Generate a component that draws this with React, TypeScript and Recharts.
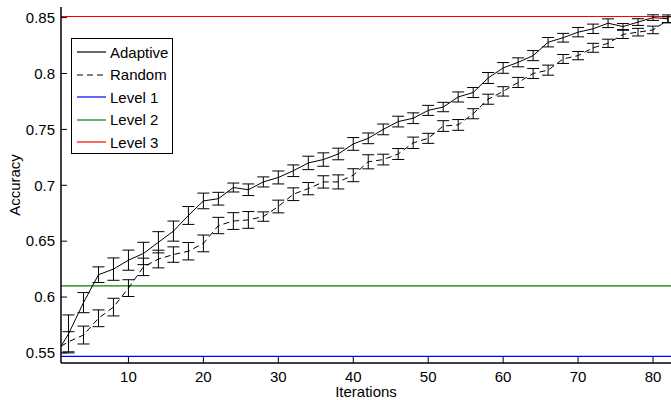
import React from "react";
import {
  LineChart,
  Line,
  XAxis,
  YAxis,
  ErrorBar,
  ReferenceLine,
  Legend,
} from "recharts";

const FONT = "'Liberation Sans', Arial, Helvetica, sans-serif";

// iterations where the means were recorded (error bars on even iterations)
const iterations = [
  1, 2, 4, 6, 8, 10, 12, 14, 16, 18, 20, 22, 24, 26, 28, 30, 32, 34, 36, 38, 40,
  42, 44, 46, 48, 50, 52, 54, 56, 58, 60, 62, 64, 66, 68, 70, 72, 74, 76, 78, 80, 82,
];

const adaptiveMean = [
  0.556, 0.567, 0.595, 0.62, 0.625, 0.633, 0.639, 0.649, 0.659, 0.673, 0.686,
  0.688, 0.698, 0.696, 0.703, 0.707, 0.713, 0.72, 0.723, 0.728, 0.737, 0.742,
  0.75, 0.757, 0.76, 0.767, 0.77, 0.779, 0.783, 0.796, 0.805, 0.81, 0.816,
  0.828, 0.832, 0.837, 0.84, 0.845, 0.842, 0.846, 0.85, 0.849,
];

const adaptiveErr = [
  null, 0.017, 0.009, 0.007, 0.01, 0.009, 0.01, 0.0095, 0.009, 0.008, 0.007,
  0.0057, 0.004, 0.0052, 0.0045, 0.0058, 0.0052, 0.006, 0.006, 0.0052, 0.0057,
  0.0048, 0.0048, 0.0048, 0.0048, 0.0045, 0.0042, 0.0045, 0.0045, 0.0049,
  0.0048, 0.004, 0.0045, 0.0042, 0.0039, 0.0042, 0.0042, 0.0039, 0.0027, 0.003,
  0.0025, 0.0034,
];

const randomMean = [
  0.556, 0.56, 0.566, 0.581, 0.591, 0.608, 0.627, 0.634, 0.638, 0.641, 0.648,
  0.664, 0.668, 0.669, 0.672, 0.681, 0.692, 0.697, 0.703, 0.703, 0.709, 0.721,
  0.723, 0.728, 0.738, 0.742, 0.753, 0.754, 0.764, 0.777, 0.784, 0.792, 0.8,
  0.803, 0.813, 0.816, 0.823, 0.827, 0.835, 0.837, 0.839, 0.848,
];

const randomErr = [
  null, 0.009, 0.008, 0.0075, 0.0079, 0.0075, 0.0078, 0.0079, 0.0069, 0.0078,
  0.0075, 0.0073, 0.0075, 0.0075, 0.0042, 0.0057, 0.0057, 0.0055, 0.0055,
  0.0063, 0.0058, 0.0063, 0.0048, 0.0049, 0.0051, 0.0045, 0.0048, 0.0048,
  0.0045, 0.0045, 0.0042, 0.0045, 0.0045, 0.0045, 0.004, 0.0037, 0.004, 0.0037,
  0.0037, 0.0034, 0.0034, 0.0027,
];

const LEVEL_1 = 0.547;
const LEVEL_2 = 0.61;
const LEVEL_3 = 0.851;

const X_TICKS = [10, 20, 30, 40, 50, 60, 70, 80];
const Y_TICKS = [0.55, 0.6, 0.65, 0.7, 0.75, 0.8, 0.85];
const X_DOMAIN = [1, 82.4];
const Y_DOMAIN = [0.541, 0.8595];

const legendItems = [
  { name: "Adaptive", color: "#000000", dash: undefined },
  { name: "Random", color: "#000000", dash: "6 4" },
  { name: "Level 1", color: "#0000ff", dash: undefined },
  { name: "Level 2", color: "#008000", dash: undefined },
  { name: "Level 3", color: "#ff0000", dash: undefined },
];

const data = iterations.map((x, i) => ({
  x,
  adaptive: adaptiveMean[i],
  adaptiveErr: adaptiveErr[i],
  random: randomMean[i],
  randomErr: randomErr[i],
}));

const LegendBox = () => (
  <div
    style={{
      boxSizing: "border-box",
      width: 102,
      height: 116,
      border: "1px solid #000",
      background: "#fff",
      padding: "2px 0 0 5px",
      fontFamily: FONT,
      fontSize: 15,
      color: "#000",
    }}
  >
    {legendItems.map((item) => (
      <div
        key={item.name}
        style={{ display: "flex", alignItems: "center", height: 22.5 }}
      >
        <svg width={29} height={10} style={{ marginRight: 4 }}>
          <line
            x1={0}
            y1={5}
            x2={29}
            y2={5}
            stroke={item.color}
            strokeWidth={1.2}
            strokeDasharray={item.dash}
          />
        </svg>
        <span>{item.name}</span>
      </div>
    ))}
  </div>
);

const tickStyle = { fontSize: 15, fill: "#000", fontFamily: FONT };

const App = () => {
  return (
    <div style={{ position: "absolute", left: 0, top: 0, background: "#fff" }}>
      <LineChart
        width={671}
        height={400}
        data={data}
        margin={{ top: 7, right: 0, left: 0, bottom: 0 }}
      >
        <XAxis
          dataKey="x"
          type="number"
          domain={X_DOMAIN}
          ticks={X_TICKS}
          allowDataOverflow
          height={37}
          tickSize={-6}
          tickMargin={14}
          tick={tickStyle}
          axisLine={{ stroke: "#000", strokeWidth: 1.5 }}
          tickLine={{ stroke: "#000" }}
          label={{
            value: "Iterations",
            position: "insideBottom",
            offset: 3,
            fontSize: 15,
            fill: "#000",
            fontFamily: FONT,
          }}
        />
        <XAxis
          xAxisId="top"
          orientation="top"
          type="number"
          domain={X_DOMAIN}
          ticks={X_TICKS}
          allowDataOverflow
          height={0}
          tickSize={-6}
          tick={false}
          axisLine={{ stroke: "#000", strokeWidth: 1.5 }}
          tickLine={{ stroke: "#000" }}
        />
        <YAxis
          type="number"
          domain={Y_DOMAIN}
          ticks={Y_TICKS}
          allowDataOverflow
          width={61}
          tickSize={-6}
          tickMargin={12}
          tick={tickStyle}
          axisLine={{ stroke: "#000", strokeWidth: 1.5 }}
          tickLine={{ stroke: "#000" }}
          label={{
            value: "Accuracy",
            angle: -90,
            position: "insideLeft",
            offset: 15,
            fontSize: 15,
            fill: "#000",
            fontFamily: FONT,
            style: { textAnchor: "middle" },
          }}
        />
        <YAxis
          yAxisId="right"
          orientation="right"
          type="number"
          domain={Y_DOMAIN}
          ticks={Y_TICKS}
          allowDataOverflow
          width={0}
          tickSize={-6}
          tick={false}
          axisLine={{ stroke: "#000", strokeWidth: 1.5 }}
          tickLine={{ stroke: "#000" }}
        />
        <ReferenceLine y={LEVEL_1} stroke="#0000ff" strokeWidth={1.2} />
        <ReferenceLine y={LEVEL_2} stroke="#008000" strokeWidth={1.2} />
        <ReferenceLine y={LEVEL_3} stroke="#ff0000" strokeWidth={1.2} />
        <Line
          type="linear"
          dataKey="adaptive"
          name="Adaptive"
          stroke="#000"
          strokeWidth={1}
          dot={false}
          isAnimationActive={false}
        >
          <ErrorBar
            dataKey="adaptiveErr"
            direction="y"
            width={6}
            stroke="#000"
            strokeWidth={1}
            isAnimationActive={false}
          />
        </Line>
        <Line
          type="linear"
          dataKey="random"
          name="Random"
          stroke="#000"
          strokeWidth={1}
          strokeDasharray="6 4"
          dot={false}
          isAnimationActive={false}
        >
          <ErrorBar
            dataKey="randomErr"
            direction="y"
            width={6}
            stroke="#000"
            strokeWidth={1}
            isAnimationActive={false}
          />
        </Line>
        <Legend
          layout="vertical"
          align="center"
          verticalAlign="middle"
          wrapperStyle={{ left: 71, top: 38, width: 102 }}
          content={<LegendBox />}
        />
      </LineChart>
    </div>
  );
};

export default App;
